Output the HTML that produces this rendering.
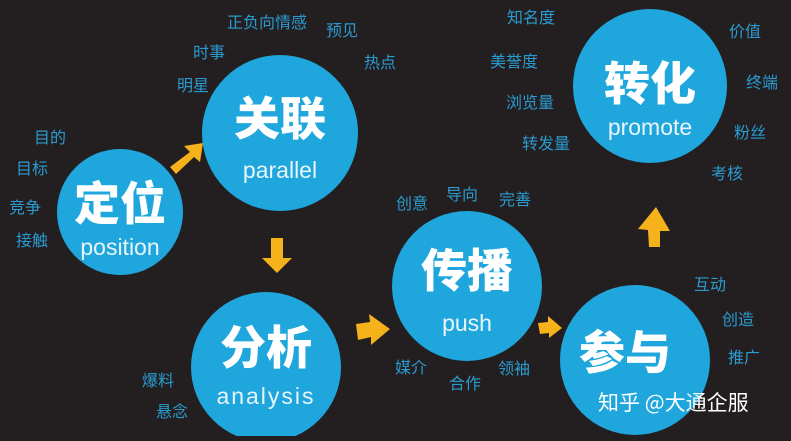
<!DOCTYPE html>
<html><head><meta charset="utf-8"><style>
html,body{margin:0;padding:0;}
body{width:791px;height:436px;background:#231f20;overflow:hidden;}
text{font-family:"Liberation Sans","Noto Sans CJK SC",sans-serif;}
.l{fill:#2a9bd0;font-size:16px;text-anchor:middle;}
.b{fill:#fff;font-size:46px;font-weight:900;text-anchor:middle;font-family:"Noto Sans CJK SC",sans-serif;}
.e{fill:#e8f6fb;font-size:23px;text-anchor:middle;}
</style></head><body>
<svg width="791" height="436" xmlns="http://www.w3.org/2000/svg">
<g fill="#1fa6dc">
<circle cx="120" cy="212" r="63"/>
<circle cx="280" cy="133" r="78"/>
<circle cx="266" cy="367" r="75"/>
<circle cx="467" cy="286" r="75"/>
<circle cx="635" cy="360" r="75"/>
<circle cx="650" cy="86" r="77"/>
</g>
<text class="b" x="120" y="220">定位</text><text class="e" x="120" y="255">position</text>
<text class="b" x="280" y="135">关联</text><text class="e" x="280" y="178">parallel</text>
<text class="b" x="266" y="364">分析</text><text class="e" x="266" y="404" style="letter-spacing:2px">analysis</text>
<text class="b" x="467" y="287">传播</text><text class="e" x="467" y="331">push</text>
<text class="b" x="625" y="369">参与</text>
<text class="b" x="650" y="100">转化</text><text class="e" x="650" y="135">promote</text>
<g fill="#f5b21b">
<polygon points="170,167 190,152 184,146 203,143 200,162 194,157 176,174"/>
<polygon points="271,238 283,238 283,258 292,258 277,273 262,258 271,258"/>
<polygon points="356,324 370,322 369,314 390,329 371,345 371,337 358,340"/>
<polygon points="538,323 548,322 548,316 562,328 549,338 549,333 540,334"/>
<polygon points="649,247 660,247 660,231 670,231 656,207 638,229 648,230"/>
</g>
<g class="l">
<text x="267" y="28">正负向情感</text><text x="342" y="36">预见</text>
<text x="209" y="58">时事</text><text x="380" y="68">热点</text>
<text x="193" y="91">明星</text>
<text x="50" y="143">目的</text><text x="32" y="174">目标</text>
<text x="25" y="213">竞争</text><text x="32" y="246">接触</text>
<text x="158" y="386">爆料</text><text x="172" y="417">悬念</text>
<text x="531" y="23">知名度</text><text x="514" y="67">美誉度</text>
<text x="530" y="108">浏览量</text><text x="546" y="149">转发量</text>
<text x="745" y="37">价值</text><text x="762" y="88">终端</text>
<text x="750" y="138">粉丝</text><text x="727" y="179">考核</text>
<text x="412" y="209">创意</text><text x="462" y="200">导向</text><text x="515" y="205">完善</text>
<text x="411" y="373">媒介</text><text x="465" y="389">合作</text><text x="514" y="374">领袖</text>
<text x="710" y="290">互动</text><text x="738" y="325">创造</text><text x="744" y="363">推广</text>
</g>
<text x="598" y="410" style="fill:#fff;font-size:21px;font-family:'Noto Sans CJK SC',sans-serif">知乎 @大通企服</text>
</svg>
</body></html>
